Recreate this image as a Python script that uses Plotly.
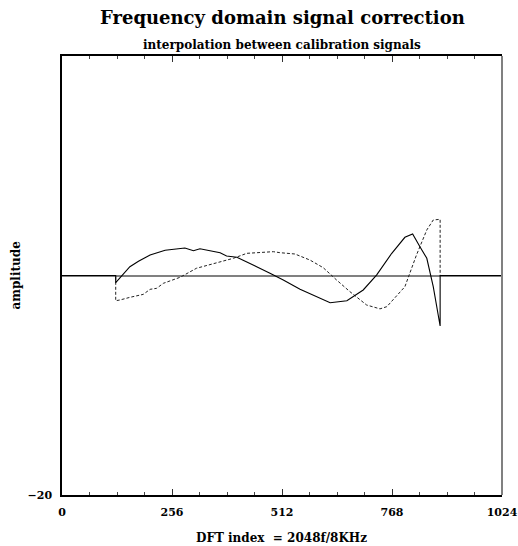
import plotly.graph_objects as go

# Solid curve (DFT index, amplitude)
solid_x = [0, 125, 125, 139, 158, 178, 205, 240, 286, 306, 321, 368, 383, 407, 430, 453, 484, 515,
           554, 585, 624, 663, 701, 732, 767, 798, 816, 833, 849, 864, 880, 880, 1024]
solid_y = [0, 0, -0.65, 0.0, 0.8, 1.3, 1.87, 2.3, 2.5, 2.26, 2.44, 2.08, 1.78, 1.66, 1.26, 0.8, 0.2, -0.41,
           -1.26, -1.78, -2.48, -2.3, -1.32, 0.04, 2.0, 3.48, 3.78, 2.62, 1.57, -1.02, -4.6, 0, 0]

# Dashed curve
dash_x = [0, 125, 125, 135, 158, 189, 205, 220, 236, 275, 313, 360, 399, 430, 492, 507,
          542, 577, 608, 639, 670, 709, 740, 756, 798, 825, 849, 864, 880, 880, 1024]
dash_y = [0, 0, -2.3, -2.23, -1.99, -1.72, -1.26, -1.17, -0.71, -0.16, 0.66, 1.17, 1.57, 2.02, 2.17, 2.08,
          1.96, 1.41, 0.71, -0.41, -1.47, -2.69, -3.04, -2.84, -1.02, 1.87, 4.15, 5.06, 5.12, 0, 0]

x_tickvals = [0, 256, 512, 768, 1024]
x_ticktext = ["0", "256", "512", "768", "1024"]
y_tickvals = [-20]
y_ticktext = ["\u221220"]

FONT = "DejaVu Serif"
BOLD11 = dict(family=FONT, size=11, weight="bold", color="black")

fig = go.Figure()
fig.add_trace(go.Scatter(x=dash_x, y=dash_y, mode="lines",
                         line=dict(color="#222", width=1, dash="3px,2px")))
fig.add_trace(go.Scatter(x=solid_x, y=solid_y, mode="lines",
                         line=dict(color="#000", width=1.1)))
# same data on the top axis (invisible) so the mirrored tick axis is drawn
fig.add_trace(go.Scatter(x=solid_x, y=solid_y, mode="lines", xaxis="x2",
                         line=dict(color="rgba(0,0,0,0)", width=0), hoverinfo="skip"))

fig.update_layout(
    width=518, height=546,
    margin=dict(l=62, r=16, t=56, b=51),
    paper_bgcolor="white", plot_bgcolor="white",
    showlegend=False,
    font=dict(family=FONT, color="black"),
    xaxis=dict(range=[0, 1024], tickvals=x_tickvals, ticktext=x_ticktext, automargin=False,
               ticks="inside", ticklen=6, tickcolor="#333", tickwidth=1,
               minor=dict(dtick=64, tick0=0, ticks="inside", ticklen=3, tickcolor="#444"),
               showgrid=False, zeroline=False, showline=True, linecolor="black", linewidth=1.5,
               mirror=True, ticklabelstandoff=6,
               tickfont=BOLD11),
    xaxis2=dict(range=[0, 1024], tickvals=x_tickvals, overlaying="x", side="top", automargin=False,
                ticks="inside", ticklen=6, tickcolor="#333", tickwidth=1,
                minor=dict(dtick=64, tick0=0, ticks="inside", ticklen=3, tickcolor="#444"),
                showgrid=False, zeroline=False, showline=False, showticklabels=False),
    yaxis=dict(range=[-20, 20], tickvals=y_tickvals, ticktext=y_ticktext, automargin=False,
               ticks="", showgrid=False, zeroline=True, zerolinecolor="#808080", zerolinewidth=1.6,
               showline=True, linecolor="black", linewidth=1.5, mirror=False,
               ticklabelstandoff=6, tickfont=BOLD11),
    shapes=[dict(type="line", xref="paper", yref="paper", x0=1, x1=1, y0=0, y1=1,
                 line=dict(color="#808080", width=2))],
    annotations=[
        dict(text="Frequency domain signal correction", xref="paper", yref="paper",
             x=0.5, y=1, yshift=39, showarrow=False, xanchor="center", yanchor="middle",
             font=dict(family=FONT, size=18, weight="bold")),
        dict(text="interpolation between calibration signals", xref="paper", yref="paper",
             x=0.5, y=1, yshift=11, showarrow=False, xanchor="center", yanchor="middle",
             font=dict(family=FONT, size=12, weight="bold")),
        dict(text="DFT index&nbsp;&nbsp;= 2048f/8KHz", xref="paper", yref="paper",
             x=(281 - 62) / 440, y=0, yshift=-43, showarrow=False,
             xanchor="center", yanchor="middle", font=dict(family=FONT, size=12, weight="bold")),
        dict(text="amplitude", xref="paper", yref="paper", textangle=-90,
             x=0, xshift=-47, y=0.5, showarrow=False,
             xanchor="center", yanchor="middle", font=dict(family=FONT, size=12, weight="bold")),
    ],
)

fig.write_html("out.html", config={"displayModeBar": False},
               post_script="document.body.style.margin='0';")
